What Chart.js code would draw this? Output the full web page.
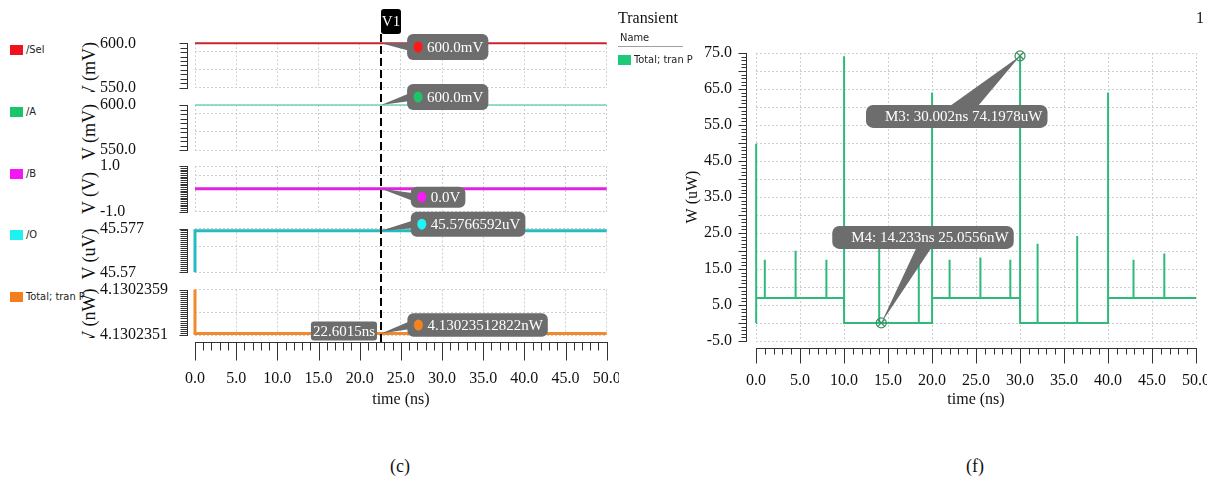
<!DOCTYPE html>
<html>
<head>
<meta charset="utf-8">
<title>Transient waveforms and total power</title>
<script src="https://cdn.jsdelivr.net/npm/chart.js@4.4.1/dist/chart.umd.min.js"></script>
<style>
  html, body { margin:0; padding:0; background:#fff; }
  body { width:1217px; height:486px; position:relative; overflow:hidden; color:#111;
         font-family:'Liberation Serif','Times New Roman',serif; }
  .abs { position:absolute; }
  .clip { position:absolute; overflow:hidden; }
  .narrow { position:absolute; font-family:'Liberation Sans Narrow','DejaVu Sans Condensed','Liberation Sans',sans-serif;
            font-stretch:condensed; font-size:11px; line-height:12px; color:#222; white-space:nowrap; }
  .swatch { position:absolute; width:13px; height:10px; }
  .serif16 { position:absolute; font-size:16px; line-height:18px; white-space:nowrap; }
  .rot { position:absolute; white-space:nowrap; font-size:18px; line-height:20px;
         transform:translate(-50%,-50%) rotate(-90deg); }
  .cap { position:absolute; font-size:18px; line-height:20px; transform:translate(-50%,-50%); }
</style>
</head>
<body>
<div id="leftDecor"></div>
<div class="clip" id="leftWrap" style="left:0;top:0;width:619px;height:430px;"></div>
<div class="clip" id="rightWrap" style="left:640px;top:0;width:567px;height:430px;"></div>

<div class="serif16" style="left:618px;top:9px;">Transient</div>
<div class="narrow" style="left:620px;top:32px;">Name</div>
<div class="abs" style="left:618px;top:46px;width:65px;height:1px;background:#a0a0a0;"></div>
<div class="swatch" style="left:618px;top:55px;background:#1fc97a;"></div>
<div class="narrow" style="left:634px;top:54px;">Total; tran P</div>
<div class="serif16" style="left:1196px;top:9px;">1</div>
<div class="cap" style="left:400px;top:466px;">(c)</div>
<div class="cap" style="left:975px;top:466px;">(f)</div>

<script>
// ---------------- waveform values (left panel) ----------------
const timeTicksNs = [0, 5, 10, 15, 20, 25, 30, 35, 40, 45, 50];

const selTimeNs = [0, 50];
const selMv     = [600.0, 600.0];
const aTimeNs   = [0, 50];
const aMv       = [600.0, 600.0];
const bTimeNs   = [0, 50];
const bV        = [0.0, 0.0];
const oTimeNs   = [0, 0, 50];
const oUv       = [45.57, 45.5766592, 45.5766592];
const totTimeNs = [0, 0, 50];
const totNw     = [4.1302359, 4.13023512822, 4.13023512822];

const traceNames  = ['/Sel', '/A', '/B', '/O', 'Total; tran P'];
const axisTitles  = ['V (mV)', 'V (mV)', 'V (V)', 'V (uV)', 'V (nW)'];
const axisMin     = [550, 550, -1, 45.57, 4.1302351];
const axisMax     = [600, 600, 1, 45.577, 4.1302359];
const axisMinText = ['550.0', '550.0', '-1.0', '45.57', '4.1302351'];
const axisMaxText = ['600.0', '600.0', '1.0', '45.577', '4.1302359'];

const cursorName   = 'V1';
const cursorNs     = 22.6015;
const cursorValues = [600.0, 600.0, 0.0, 45.5766592, 4.13023512822];
const cursorText   = ['600.0mV', '600.0mV', '0.0V', '45.5766592uV', '4.13023512822nW'];

// ---------------- total power values (right panel) ----------------
const powerTimeNs = [
  0, 0, 0.04,
  1.0, 1.0, 1.0,
  4.5, 4.5, 4.5,
  8.0, 8.0, 8.0,
  10.0, 10.0, 10.02,
  14.0, 14.0, 14.0,
  18.5, 18.5, 18.5,
  20.0, 20.0, 20.02,
  22.0, 22.0, 22.0,
  25.5, 25.5, 25.5,
  28.9, 28.9, 28.9,
  30.0, 30.002, 30.02,
  32.0, 32.0, 32.0,
  36.5, 36.5, 36.5,
  40.0, 40.0, 40.02,
  42.9, 42.9, 42.9,
  46.4, 46.4, 46.4,
  50.0
];
const powerUw = [
  0.0250556, 49.8, 6.95,
  6.95, 17.6, 6.95,
  6.95, 20.1, 6.95,
  6.95, 17.6, 6.95,
  6.95, 74.1, 0.0250556,
  0.0250556, 22.0, 0.0250556,
  0.0250556, 22.0, 0.0250556,
  0.0250556, 64.0, 6.95,
  6.95, 17.6, 6.95,
  6.95, 18.2, 6.95,
  6.95, 17.6, 6.95,
  6.95, 74.1978, 0.0250556,
  0.0250556, 22.0, 0.0250556,
  0.0250556, 24.2, 0.0250556,
  0.0250556, 64.0, 6.95,
  6.95, 17.6, 6.95,
  6.95, 19.3, 6.95,
  6.95
];
const powerGridUw  = [-5, 0, 5, 10, 15, 20, 25, 30, 35, 40, 45, 50, 55, 60, 65, 70, 75];
const powerLabelUw = [-5, 5, 15, 25, 35, 45, 55, 65, 75];

const markerNames  = ['M3', 'M4'];
const markerTimeNs = [30.002, 14.233];
const markerUw     = [74.1978, 0.0250556];
const markerText   = [
  `${markerNames[0]}: ${markerTimeNs[0]}ns ${markerUw[0]}uW`,
  `${markerNames[1]}: ${markerTimeNs[1]}ns ${(markerUw[1] * 1000).toFixed(4)}nW`
];

// ---------------- styling / layout ----------------
const SERIF = "'Liberation Serif', 'Times New Roman', serif";
const GRID = '#cfcfcf';
const NOTE_FILL = '#6d6d6d';
const TICK_FONT = { family: SERIF, size: 16 };

const leftPlots = [
  { top: 43.3,  bottom: 87.7,  gridFrac: [0.19, 0.585], comb: 10, line: '#c9252c', lw: 2,   swatch: '#f0121e', dot: '#ff1a1a', dx: 26,   dy: 3.7,  h: 26,   clipTitle: [30, 92] },
  { top: 105,   bottom: 150,   gridFrac: [0.185, 0.58], comb: 10, line: '#6fd6b8', lw: 1.5, swatch: '#18c46c', dot: '#1fc46a', dx: 26,   dy: -8,   h: 26,   clipTitle: [92, 166] },
  { top: 166,   bottom: 211.7, gridFrac: [0.21],        comb: 26, line: '#e023e0', lw: 3,   swatch: '#f515f5', dot: '#f51cf5', dx: 29.7, dy: 8.3,  h: 21,   clipTitle: [166, 226] },
  { top: 228.5, bottom: 272.3, gridFrac: [0.42],        comb: 22, line: '#25bcbf', lw: 3,   swatch: '#1ff0f2', dot: '#1ff5f5', dx: 29.7, dy: -6.5, h: 25,   clipTitle: [226, 286] },
  { top: 289.5, bottom: 335,   gridFrac: [0.505],       comb: 22, line: '#f2892a', lw: 3,   swatch: '#f47d1c', dot: '#f5821f', dx: 26.3, dy: -8.4, h: 23.4, clipTitle: [286, 338] }
];
const markerStyle = [
  { dx: -154, dy: 49,  b0: -70, b1: -42 },
  { dx: -49,  dy: -97, b0: 35,  b1: 50 }
];

// ---------------- legend swatches and per-trace axis titles ----------------
const decor = document.getElementById('leftDecor');
traceNames.forEach((name, i) => {
  const top = 45 + i * 61.8;
  const sw = document.createElement('div');
  sw.className = 'swatch';
  sw.style.cssText = `left:10px;top:${top}px;background:${leftPlots[i].swatch};`;
  decor.appendChild(sw);
  const tx = document.createElement('div');
  tx.className = 'narrow';
  tx.style.cssText = `left:26px;top:${top - 1}px;`;
  tx.textContent = name;
  decor.appendChild(tx);

  const [c0, c1] = leftPlots[i].clipTitle;
  const band = document.createElement('div');
  band.className = 'clip';
  band.style.cssText = `left:70px;top:${c0}px;width:30px;height:${c1 - c0}px;`;
  const t = document.createElement('div');
  t.className = 'rot';
  const cy = (leftPlots[i].top + leftPlots[i].bottom) / 2 + 4 - c0;
  t.style.cssText = `left:18.5px;top:${cy}px;`;
  t.textContent = axisTitles[i];
  band.appendChild(t);
  decor.appendChild(band);
});

// ---------------- plugins ----------------
function combPlugin(opt) {
  return {
    id: 'comb',
    afterDraw(chart) {
      const { ctx, chartArea: ca } = chart;
      const xs = chart.scales.x, ys = chart.scales.y;
      ctx.save();
      ctx.strokeStyle = '#333';
      ctx.lineWidth = 1;
      if (opt.y) {
        const c = opt.y;
        const x0 = Math.round(ca.left - c.offset) + 0.5;
        ctx.beginPath();
        ctx.moveTo(x0, Math.round(ys.getPixelForValue(ys.max)));
        ctx.lineTo(x0, Math.round(ys.getPixelForValue(ys.min)) + 1);
        for (let k = 0; k <= c.n; k++) {
          const v = ys.min + (ys.max - ys.min) * k / c.n;
          const py = Math.round(ys.getPixelForValue(v)) + 0.5;
          const len = (k % c.every === 0) ? c.long : c.short;
          ctx.moveTo(x0, py);
          ctx.lineTo(x0 - len, py);
        }
        ctx.stroke();
      }
      if (opt.x) {
        const c = opt.x;
        const y0 = Math.round(ca.bottom + c.gap) + 0.5;
        ctx.beginPath();
        ctx.moveTo(Math.round(xs.getPixelForValue(xs.min)), y0);
        ctx.lineTo(Math.round(xs.getPixelForValue(xs.max)) + 1, y0);
        const n = Math.round((xs.max - xs.min) / c.step);
        for (let k = 0; k <= n; k++) {
          const px = Math.round(xs.getPixelForValue(xs.min + k * c.step)) + 0.5;
          const len = (k % c.every === 0) ? c.long : c.short;
          ctx.moveTo(px, y0);
          ctx.lineTo(px, y0 + len);
        }
        ctx.stroke();
      }
      ctx.restore();
    }
  };
}

function readoutPlugin(i) {
  const P = leftPlots[i];
  return {
    id: 'readout',
    afterDraw(chart) {
      const { ctx } = chart;
      const ax = chart.scales.x.getPixelForValue(cursorNs);
      const ay = chart.scales.y.getPixelForValue(cursorValues[i]);
      ctx.save();
      ctx.font = `15px ${SERIF}`;
      const tw = ctx.measureText(cursorText[i]).width;
      const bl = ax + P.dx, cy = ay + P.dy, bt = cy - P.h / 2, bw = tw + 25;
      ctx.fillStyle = NOTE_FILL;
      ctx.beginPath();
      ctx.moveTo(ax, ay);
      ctx.lineTo(bl + 3, cy - 4);
      ctx.lineTo(bl + 3, cy + 4);
      ctx.closePath();
      ctx.fill();
      ctx.beginPath();
      ctx.roundRect(bl, bt, bw, P.h, 6);
      ctx.fill();
      ctx.fillStyle = P.dot;
      ctx.beginPath();
      ctx.ellipse(bl + 11, cy, 4.5, 5.5, 0, 0, Math.PI * 2);
      ctx.fill();
      ctx.fillStyle = '#fff';
      ctx.textAlign = 'left';
      ctx.textBaseline = 'middle';
      ctx.fillText(cursorText[i], bl + 20, cy + 1);
      ctx.restore();
    }
  };
}

const cursorPlugin = {
  id: 'cursorLine',
  afterDraw(chart) {
    const { ctx, chartArea: ca } = chart;
    const x = Math.round(chart.scales.x.getPixelForValue(cursorNs));
    ctx.save();
    ctx.strokeStyle = '#000';
    ctx.lineWidth = 2;
    ctx.setLineDash([8, 4]);
    ctx.beginPath();
    ctx.moveTo(x, 34);
    ctx.lineTo(x, ca.bottom + 8);
    ctx.stroke();
    ctx.setLineDash([]);
    ctx.fillStyle = '#000';
    ctx.beginPath();
    ctx.roundRect(x, 9, 20, 25, 3);
    ctx.fill();
    ctx.fillStyle = '#fff';
    ctx.font = `15px ${SERIF}`;
    ctx.textAlign = 'center';
    ctx.textBaseline = 'middle';
    ctx.fillText(cursorName, x + 10, 22);
    const label = cursorNs + 'ns';
    const w = ctx.measureText(label).width + 4;
    const cy = ca.bottom - 4;
    ctx.fillStyle = NOTE_FILL;
    ctx.beginPath();
    ctx.roundRect(x - 4 - w, cy - 9.5, w, 19, 3);
    ctx.fill();
    ctx.fillStyle = '#fff';
    ctx.fillText(label, x - 4 - w / 2, cy + 1);
    ctx.restore();
  }
};

const markerPlugin = {
  id: 'markers',
  afterDraw(chart) {
    const { ctx } = chart;
    const xs = chart.scales.x, ys = chart.scales.y;
    ctx.save();
    ctx.font = `15px ${SERIF}`;
    markerTimeNs.forEach((t, k) => {
      const S = markerStyle[k];
      const ax = xs.getPixelForValue(t), ay = ys.getPixelForValue(markerUw[k]);
      const tw = ctx.measureText(markerText[k]).width;
      const bl = ax + S.dx, bt = ay + S.dy, bh = 23, bw = tw + 24;
      const edge = S.dy > 0 ? bt + 1 : bt + bh - 1;
      ctx.fillStyle = NOTE_FILL;
      ctx.beginPath();
      ctx.moveTo(ax, ay);
      ctx.lineTo(ax + S.b0, edge);
      ctx.lineTo(ax + S.b1, edge);
      ctx.closePath();
      ctx.fill();
      ctx.beginPath();
      ctx.roundRect(bl, bt, bw, bh, 7);
      ctx.fill();
      ctx.fillStyle = '#fff';
      ctx.textAlign = 'left';
      ctx.textBaseline = 'middle';
      ctx.fillText(markerText[k], bl + 19, bt + bh / 2 + 1);
      ctx.strokeStyle = '#3a8f62';
      ctx.lineWidth = 1.2;
      ctx.beginPath();
      ctx.arc(ax, ay, 5, 0, Math.PI * 2);
      ctx.stroke();
      const d = 3.4;
      ctx.beginPath();
      ctx.moveTo(ax - d, ay - d); ctx.lineTo(ax + d, ay + d);
      ctx.moveTo(ax + d, ay - d); ctx.lineTo(ax - d, ay + d);
      ctx.stroke();
    });
    ctx.restore();
  }
};

// ---------------- left panel: five stacked waveform plots ----------------
const leftSeries = [
  [selTimeNs, selMv], [aTimeNs, aMv], [bTimeNs, bV], [oTimeNs, oUv], [totTimeNs, totNw]
];
const LEFT_W = 670, LEFT_H = 430, LEFT_PLOT_RIGHT = 606.7;

leftSeries.forEach(([times, vals], i) => {
  const P = leftPlots[i];
  const isLast = i === leftSeries.length - 1;
  const canvas = document.createElement('canvas');
  canvas.width = LEFT_W; canvas.height = LEFT_H;
  canvas.style.cssText = `position:absolute;left:0;top:0;width:${LEFT_W}px;height:${LEFT_H}px;`;
  document.getElementById('leftWrap').appendChild(canvas);

  const lo = axisMin[i], hi = axisMax[i];
  const gridVals = P.gridFrac.map(f => hi - f * (hi - lo)).sort((a, b) => a - b);
  const plugins = [
    combPlugin({
      y: { offset: 8, n: P.comb, every: P.comb, short: 7, long: 8 },
      x: isLast ? { gap: 7.3, step: 1, every: 5, short: 8, long: 18 } : null
    }),
    readoutPlugin(i)
  ];
  if (isLast) plugins.push(cursorPlugin);

  new Chart(canvas, {
    type: 'line',
    data: {
      datasets: [{
        data: times.map((t, k) => ({ x: t, y: vals[k] })),
        borderColor: P.line, borderWidth: P.lw,
        pointRadius: 0, tension: 0, clip: 6
      }]
    },
    options: {
      responsive: false, animation: false, events: [], devicePixelRatio: 1,
      layout: { padding: { left: 100, right: LEFT_W - LEFT_PLOT_RIGHT, top: P.top,
                           bottom: isLast ? LEFT_H - P.bottom - 74 : LEFT_H - P.bottom } },
      plugins: { legend: { display: false }, tooltip: { enabled: false } },
      scales: {
        x: {
          type: 'linear', min: 0, max: 50,
          afterBuildTicks: s => { s.ticks = timeTicksNs.map(v => ({ value: v })); },
          grid: { color: GRID, drawTicks: false, lineWidth: 1 },
          border: { display: false, dash: [2, 2] },
          ticks: { display: isLast, padding: 33.7, maxRotation: 0, autoSkip: false,
                   font: TICK_FONT, color: '#111', callback: v => Number(v).toFixed(1) },
          title: { display: isLast, text: 'time (ns)', font: TICK_FONT, color: '#111',
                   padding: { top: 0, bottom: 0 } },
          afterFit: s => { s.height = isLast ? 74 : 0; }
        },
        y: {
          type: 'linear', min: lo, max: hi,
          afterBuildTicks: s => { s.ticks = [lo, ...gridVals, hi].map(v => ({ value: v })); },
          grid: { color: GRID, drawTicks: false, lineWidth: 1 },
          border: { display: false, dash: [2, 2] },
          ticks: { crossAlign: 'far', padding: 0, autoSkip: false, font: TICK_FONT, color: '#111',
                   callback: v => v === hi ? axisMaxText[i] : (v === lo ? axisMinText[i] : '') },
          afterFit: s => { s.width = 95; }
        }
      }
    },
    plugins
  });
});

// ---------------- right panel: total power ----------------
const rc = document.createElement('canvas');
const RIGHT_W = 620, RIGHT_H = 430;
rc.width = RIGHT_W; rc.height = RIGHT_H;
rc.style.cssText = `position:absolute;left:0;top:0;width:${RIGHT_W}px;height:${RIGHT_H}px;`;
document.getElementById('rightWrap').appendChild(rc);

new Chart(rc, {
  type: 'line',
  data: {
    datasets: [{
      data: powerTimeNs.map((t, k) => ({ x: t, y: powerUw[k] })),
      borderColor: '#2fb97a', borderWidth: 2,
      pointRadius: 0, tension: 0, clip: 4
    }]
  },
  options: {
    responsive: false, animation: false, events: [], devicePixelRatio: 1,
    layout: { padding: { left: 40, right: RIGHT_W - 556, top: 53, bottom: RIGHT_H - 341 - 70 } },
    plugins: { legend: { display: false }, tooltip: { enabled: false } },
    scales: {
      x: {
        type: 'linear', min: 0, max: 50,
        afterBuildTicks: s => { s.ticks = timeTicksNs.map(v => ({ value: v })); },
        grid: { color: GRID, drawTicks: false, lineWidth: 1 },
        border: { display: false, dash: [2, 2] },
        ticks: { padding: 30.4, maxRotation: 0, autoSkip: false, font: TICK_FONT, color: '#111',
                 callback: v => Number(v).toFixed(1) },
        title: { display: true, text: 'time (ns)', font: TICK_FONT, color: '#111',
                 padding: { top: 0, bottom: 1.4 } },
        afterFit: s => { s.height = 70; }
      },
      y: {
        type: 'linear', min: -5, max: 75,
        afterBuildTicks: s => { s.ticks = powerGridUw.map(v => ({ value: v })); },
        grid: { color: GRID, drawTicks: false, lineWidth: 1 },
        border: { display: false, dash: [2, 2] },
        ticks: { crossAlign: 'near', padding: 24, autoSkip: false, font: TICK_FONT, color: '#111',
                 callback: v => powerLabelUw.includes(v) ? Number(v).toFixed(1) : '' },
        title: { display: true, text: 'W (uW)', font: TICK_FONT, color: '#111',
                 padding: { top: 3.4, bottom: 0 } },
        afterFit: s => { s.width = 76; }
      }
    }
  },
  plugins: [
    combPlugin({
      y: { offset: 10, n: 80, every: 5, short: 5, long: 8 },
      x: { gap: 7, step: 1, every: 5, short: 6, long: 15 }
    }),
    markerPlugin
  ]
});
</script>
</body>
</html>
